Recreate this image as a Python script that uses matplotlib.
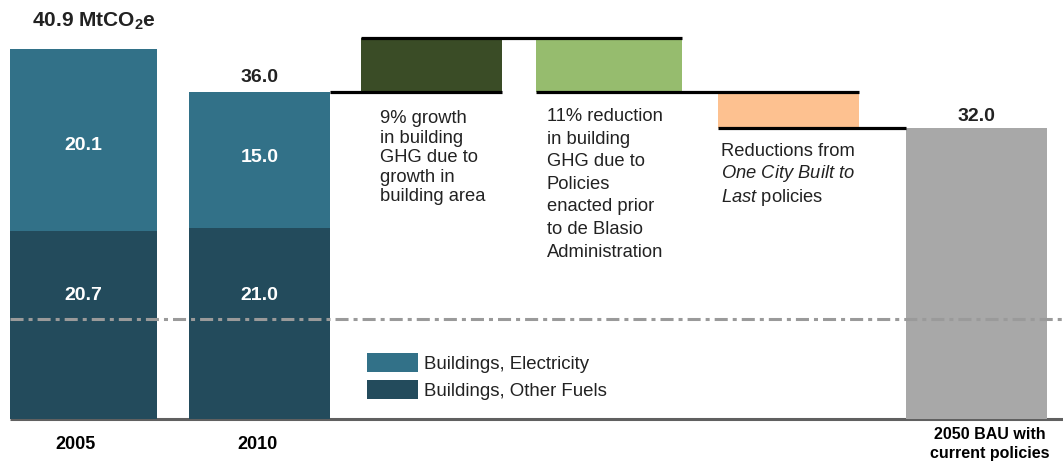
import matplotlib
matplotlib.use('Agg')
import matplotlib.pyplot as plt
from matplotlib.patches import Patch

plt.rcParams['font.family'] = ['Liberation Sans', 'DejaVu Sans']
plt.rcParams['mathtext.fontset'] = 'custom'
plt.rcParams['mathtext.rm'] = 'Liberation Sans'
plt.rcParams['mathtext.it'] = 'Liberation Sans:italic'
plt.rcParams['mathtext.bf'] = 'Liberation Sans:bold'
plt.rcParams['lines.scale_dashes'] = False

# ---------------- data ----------------
years = ['2005', '2010']
other_fuels = [20.7, 21.0]
electricity = [20.1, 15.0]
total_labels = ['40.9 MtCO$_\\mathbf{2}$e', '36.0']
growth_area = 6.0          # 9% growth in building area
prior_policies = -6.0      # policies enacted prior to de Blasio
one_city = -4.0            # One City Built to Last
bau_2050 = 32.0
bau_label = '2050 BAU with\ncurrent policies'
target_level = 11.0
legend_labels = ['Buildings, Electricity', 'Buildings, Other Fuels']

# ---------------- style ----------------
C_ELEC = '#327188'
C_OTHER = '#234B5C'
C_GROWTH = '#3A4C26'
C_PRIOR = '#96BC6E'
C_ONECITY = '#FDC190'
C_BAU = '#A8A8A8'
C_TEXT = '#222222'

W, H = 1063, 463
PX = 9.08      # pixels per MtCO2e
BASE = 419     # pixel row of zero

fig = plt.figure(figsize=(W / 100, H / 100), dpi=100)
ax = fig.add_axes([0, 0, 1, 1])
ax.set_xlim(0, W)
ax.set_ylim(-(H - BASE) / PX, BASE / PX)
ax.axis('off')

def fy(py):
    """pixel row -> data y"""
    return (BASE - py) / PX

# bar layout (left edges and widths in pixels)
lefts = [10, 189, 361, 536, 718, 906]
widths = [147, 141, 141, 146, 141, 141]
centers = [l + w / 2 for l, w in zip(lefts, widths)]

# baseline
ax.hlines(0, lefts[0], W, color='#606060', lw=2.2, zorder=1)

# stacked historical bars
ax.bar(centers[:2], other_fuels, width=widths[:2], color=C_OTHER, zorder=2)
ax.bar(centers[:2], electricity, width=widths[:2], bottom=other_fuels, color=C_ELEC, zorder=2)

# waterfall
start = other_fuels[1] + electricity[1]
lvl1 = start + growth_area
lvl2 = lvl1 + prior_policies
lvl3 = lvl2 + one_city
ax.bar(centers[2], growth_area, width=widths[2], bottom=start, color=C_GROWTH, zorder=2)
ax.bar(centers[3], -prior_policies, width=widths[3], bottom=lvl2, color=C_PRIOR, zorder=2)
ax.bar(centers[4], -one_city, width=widths[4], bottom=lvl3, color=C_ONECITY, zorder=2)
ax.bar(centers[5], bau_2050, width=widths[5], color=C_BAU, zorder=2)

# connector lines
lw_c = 2.3
ax.hlines(start, lefts[1] + widths[1], lefts[2] + widths[2], color='black', lw=lw_c, zorder=3)
ax.hlines(lvl1, lefts[2], lefts[3] + widths[3], color='black', lw=lw_c, zorder=3)
ax.hlines(lvl2, lefts[3], lefts[4] + widths[4], color='black', lw=lw_c, zorder=3)
ax.hlines(lvl3, lefts[4], lefts[5], color='black', lw=lw_c, zorder=3)

# dash-dot target line
ax.plot([lefts[0], W], [target_level, target_level], color='#9A9A9A', lw=2.2,
        linestyle=(0, (9.4, 3.6, 2.9, 3.6)), zorder=4)

# value labels
ax.text(94, fy(27), total_labels[0], ha='center', va='baseline',
        fontsize=15, fontweight='bold', color=C_TEXT)
ax.text(centers[1], fy(82), total_labels[1], ha='center', va='baseline',
        fontsize=14, fontweight='bold', color=C_TEXT)
ax.text(centers[5], fy(121), f'{bau_2050:.1f}', ha='center', va='baseline',
        fontsize=14, fontweight='bold', color=C_TEXT)

ax.text(centers[0], fy(146), f'{electricity[0]:.1f}', ha='center', va='center',
        fontsize=14, fontweight='bold', color='white', zorder=5)
ax.text(centers[1], fy(158), f'{electricity[1]:.1f}', ha='center', va='center',
        fontsize=14, fontweight='bold', color='white', zorder=5)
ax.text(centers[0], fy(296), f'{other_fuels[0]:.1f}', ha='center', va='center',
        fontsize=14, fontweight='bold', color='white', zorder=5)
ax.text(centers[1], fy(296), f'{other_fuels[1]:.1f}', ha='center', va='center',
        fontsize=14, fontweight='bold', color='white', zorder=5)

# annotations
ann_fs = 13.2
ax.text(380, fy(110), '9% growth\nin building\nGHG due to\ngrowth in\nbuilding area',
        ha='left', va='top', fontsize=ann_fs, color=C_TEXT, linespacing=1.2)
ax.text(547, fy(108), '11% reduction\nin building\nGHG due to\nPolicies\nenacted prior\nto de Blasio\nAdministration',
        ha='left', va='top', fontsize=ann_fs, color=C_TEXT, linespacing=1.43)
ax.text(721, fy(143), 'Reductions from\n$\\mathit{One\\ City\\ Built\\ to}$\n$\\mathit{Last}$ policies',
        ha='left', va='top', fontsize=ann_fs, color=C_TEXT, linespacing=1.2)

# category labels
ax.text(76, fy(449), years[0], ha='center', va='baseline', fontsize=13,
        fontweight='bold', color='black')
ax.text(257, fy(449), years[1], ha='center', va='baseline', fontsize=13,
        fontweight='bold', color='black')
ax.text(990, fy(427), bau_label, ha='center', va='top', fontsize=11.5,
        fontweight='bold', color='black', linespacing=1.3)

# legend
handles = [Patch(facecolor=C_ELEC), Patch(facecolor=C_OTHER)]
leg = ax.legend(handles, legend_labels, loc='upper left',
                bbox_to_anchor=(367 / W, 1 - 353 / H), frameon=False,
                fontsize=13.4, handlelength=2.75, handleheight=1.2,
                handletextpad=0.32, labelspacing=0.4, borderpad=0, borderaxespad=0)
for t in leg.get_texts():
    t.set_color(C_TEXT)

fig.savefig('out.png', dpi=100)
